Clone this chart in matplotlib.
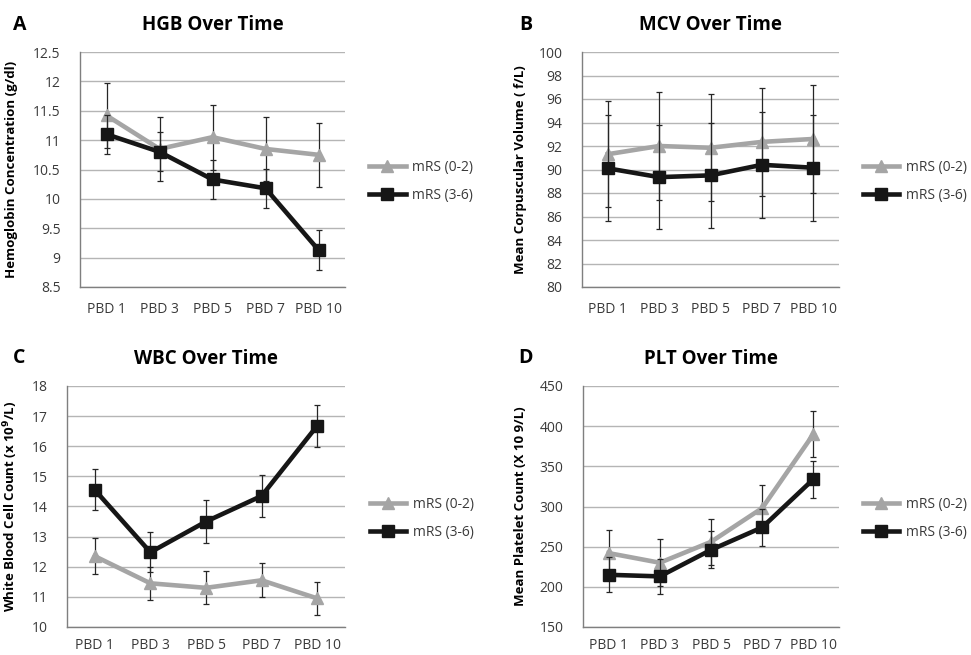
import matplotlib.pyplot as plt
from matplotlib.lines import Line2D

plt.rcParams['font.family'] = ['Open Sans', 'DejaVu Sans']

# Data
days = ["PBD 1", "PBD 3", "PBD 5", "PBD 7", "PBD 10"]

hgb_low = [11.42, 10.85, 11.05, 10.85, 10.75]
hgb_low_err = [0.56, 0.55, 0.55, 0.55, 0.55]
hgb_high = [11.10, 10.80, 10.33, 10.18, 9.13]
hgb_high_err = [0.33, 0.33, 0.33, 0.33, 0.34]

mcv_low = [91.3, 92.0, 91.85, 92.35, 92.6]
mcv_low_err = [4.5, 4.6, 4.55, 4.6, 4.6]
mcv_high = [90.1, 89.35, 89.5, 90.4, 90.15]
mcv_high_err = [4.5, 4.45, 4.45, 4.5, 4.5]

wbc_low = [12.35, 11.45, 11.30, 11.55, 10.95]
wbc_low_err = [0.6, 0.55, 0.55, 0.57, 0.54]
wbc_high = [14.55, 12.48, 13.50, 14.35, 16.68]
wbc_high_err = [0.68, 0.67, 0.70, 0.70, 0.69]

plt_low = [242, 230, 256, 298, 390]
plt_low_err = [29, 29, 29, 29, 29]
plt_high = [215, 213, 246, 274, 334]
plt_high_err = [22, 22, 23, 23, 23]

labels = ["mRS (0-2)", "mRS (3-6)"]

W, H = 971, 655
fig = plt.figure(figsize=(W / 100, H / 100), dpi=100)

GREY = "#a5a5a5"
BLACK = "#161616"
TEXT = "#3a3a3a"


def px_axes(left, right, top, bottom):
    return fig.add_axes([left / W, 1 - bottom / H, (right - left) / W, (bottom - top) / H])


panels = [
    # letter, title, ylabel, low, low_err, high, high_err, ylim, step, box, label_x, letter_xy, xpad
    ("A", "HGB Over Time", "Hemoglobin Concentration (g/dl)",
     hgb_low, hgb_low_err, hgb_high, hgb_high_err, (8.5, 12.5), 0.5,
     (80, 345, 52, 287), 18, (20, 25), 11),
    ("B", "MCV Over Time", "Mean Corpuscular Volume ( f/L)",
     mcv_low, mcv_low_err, mcv_high, mcv_high_err, (80, 100), 2,
     (582, 839, 52, 287), 527, (526, 25), 11),
    ("C", "WBC Over Time", r"White Blood Cell Count (x 10$^{\mathbf{9}}$/L)",
     wbc_low, wbc_low_err, wbc_high, wbc_high_err, (10, 18), 1,
     (67, 345, 386, 627), 20, (19, 358), 8),
    ("D", "PLT Over Time", "Mean Platelet Count (X 10 9/L)",
     plt_low, plt_low_err, plt_high, plt_high_err, (150, 450), 50,
     (583, 839, 386, 627), 527, (526, 358), 8),
]

for (letter, title, ylabel, low, low_err, high, high_err, ylim, step,
     box, label_x, letter_xy, xpad) in panels:
    left, right, top, bottom = box
    ax = px_axes(left, right, top, bottom)
    x = range(len(days))

    ax.errorbar(x, low, yerr=low_err, color=GREY, lw=3.3, marker="^", ms=9,
                ecolor="#262626", elinewidth=0.9, capsize=2.4, capthick=0.9,
                zorder=3)
    ax.errorbar(x, high, yerr=high_err, color=BLACK, lw=3.3, marker="s", ms=8.5,
                ecolor="#262626", elinewidth=0.9, capsize=2.4, capthick=0.9,
                zorder=4)

    ax.set_xlim(-0.5, len(days) - 0.5)
    ax.set_ylim(*ylim)
    ticks = []
    v = ylim[0]
    while v <= ylim[1] + 1e-9:
        ticks.append(v)
        v += step
    ax.set_yticks(ticks)
    ax.set_yticklabels([f"{t:g}" for t in ticks])
    ax.set_xticks(list(x))
    ax.set_xticklabels(days)
    ax.tick_params(length=0, labelsize=10, labelcolor=TEXT)
    ax.tick_params(axis="x", pad=xpad)
    ax.tick_params(axis="y", pad=14)

    ax.grid(axis="y", color="#b5b5b5", lw=1)
    ax.set_axisbelow(True)
    for s in ("top", "right"):
        ax.spines[s].set_visible(False)
    for s in ("left", "bottom"):
        ax.spines[s].set_color("#7f7f7f")
        ax.spines[s].set_linewidth(1)

    ax.set_title(title, fontsize=13.5, fontweight="bold", pad=16)
    ax.set_ylabel(ylabel, fontsize=9.5, fontweight="bold")
    ax.yaxis.set_label_coords((label_x - left) / (right - left), 0.5)

    handles = [
        Line2D([], [], color=GREY, lw=3.3, marker="^", ms=9),
        Line2D([], [], color=BLACK, lw=3.3, marker="s", ms=8.5),
    ]
    ax.legend(handles, labels, loc="center left", bbox_to_anchor=(1.045, 0.45),
              frameon=False, fontsize=10, handlelength=2.6, labelspacing=0.9,
              handletextpad=0.5, labelcolor=TEXT)

    fig.text(letter_xy[0] / W, 1 - letter_xy[1] / H, letter, fontsize=14,
             fontweight="bold", ha="center", va="center")

fig.savefig("out.png", dpi=100)
